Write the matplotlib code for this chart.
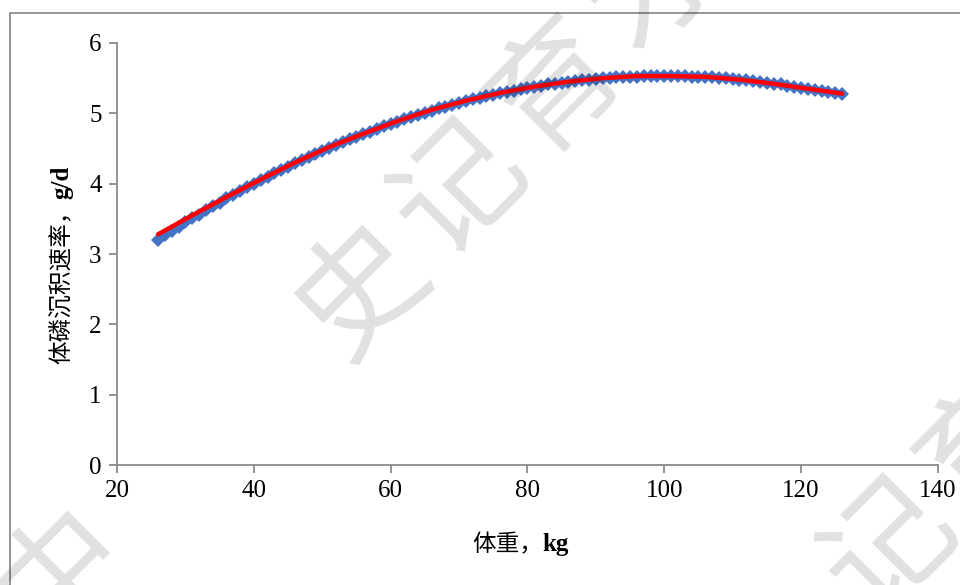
import numpy as np
import matplotlib.pyplot as plt
from matplotlib.patches import Rectangle

plt.rcParams['font.family'] = ['Liberation Serif', 'Noto Sans CJK SC']

# body weight, kg (one point per kg)
weight = list(range(26, 127))
# measured P deposition rate, g/d (blue diamonds)
p_rate = [3.20, 3.27, 3.33, 3.39, 3.45, 3.51, 3.56, 3.62, 3.68, 3.73,
          3.79, 3.84, 3.90, 3.95, 4.00, 4.05, 4.10, 4.15, 4.20, 4.24,
          4.29, 4.34, 4.38, 4.42, 4.47, 4.51, 4.55, 4.59, 4.63, 4.67,
          4.71, 4.74, 4.78, 4.82, 4.85, 4.88, 4.92, 4.95, 4.98, 5.01,
          5.04, 5.07, 5.09, 5.12, 5.15, 5.17, 5.20, 5.22, 5.24, 5.26,
          5.29, 5.31, 5.32, 5.34, 5.36, 5.38, 5.39, 5.41, 5.42, 5.43,
          5.45, 5.46, 5.47, 5.48, 5.49, 5.50, 5.50, 5.51, 5.52, 5.52,
          5.52, 5.53, 5.53, 5.53, 5.53, 5.53, 5.53, 5.53, 5.52, 5.52,
          5.52, 5.51, 5.50, 5.50, 5.49, 5.48, 5.47, 5.46, 5.45, 5.43,
          5.42, 5.41, 5.39, 5.38, 5.36, 5.35, 5.33, 5.32, 5.30, 5.29,
          5.27]

# fitted curve (red line)
fit_w = [26, 31, 36, 41, 46, 51, 56, 61, 66, 71, 76,
         81, 86, 91, 96, 101, 106, 111, 116, 121, 126]
fit_rate = [3.28, 3.55, 3.81, 4.06, 4.30, 4.52, 4.71, 4.89, 5.05, 5.18, 5.29,
            5.38, 5.45, 5.50, 5.53, 5.53, 5.52, 5.48, 5.42, 5.35, 5.28]

xticks = [20, 40, 60, 80, 100, 120, 140]
yticks = [0, 1, 2, 3, 4, 5, 6]

fig = plt.figure(figsize=(9.6, 5.85), dpi=100)
ax = fig.add_axes([0.1219, 0.2051, 0.855, 0.7214])

ax.plot(weight, p_rate, linestyle='none', marker='D', ms=7,
        color='#4472C4', markeredgewidth=0)
ax.plot(fit_w, fit_rate, color='#FF0000', lw=3.2, solid_capstyle='round')

ax.set_xlim(20, 140)
ax.set_ylim(0, 6)
ax.set_xticks(xticks)
ax.set_yticks(yticks)
for s in ['top', 'right']:
    ax.spines[s].set_visible(False)
for s in ['left', 'bottom']:
    ax.spines[s].set_color('#898989')
    ax.spines[s].set_linewidth(1.3)
ax.tick_params(direction='out', length=6, width=1.3, color='#898989',
               labelsize=18, pad=5)

# axis labels: Chinese part regular, unit bold
W, H = 960, 585
xl1 = fig.text(472 / W, 1 - 545 / H, '体重，', ha='left', va='center', fontsize=17)
yl1 = fig.text(62 / W, 1 - 364 / H, '体磷沉积速率，', ha='center', va='bottom',
               rotation=90, fontsize=17)
fig.canvas.draw()
r = fig.canvas.get_renderer()
bx = xl1.get_window_extent(r)
by = yl1.get_window_extent(r)
fig.text(bx.x1 / W, 1 - 545 / H, 'kg', ha='left', va='center', fontsize=18,
         fontweight='bold')
fig.text(62 / W, by.y1 / H, 'g/d', ha='center', va='bottom', rotation=90,
         fontsize=18, fontweight='bold')

# outer frame
fig.patches.append(Rectangle((10 / W, -0.1), 1.2, 1.1 - 13 / H,
                             transform=fig.transFigure, fill=False,
                             edgecolor='#8c8c8c', lw=1.3))

# watermark
wm = [('史', 363, 292), ('记', 460, 190), ('育', 557, 87), ('才', 657, -14),
      ('中', 62, 572), ('记', 890, 548), ('育', 988, 445)]
for ch, px, py in wm:
    fig.text(px / W, 1 - py / H, ch, fontsize=92, rotation=45,
             ha='center', va='center', color='k', alpha=0.12,
             family='Noto Sans CJK SC', fontweight='medium', zorder=10)

fig.savefig('out.png', dpi=100)
